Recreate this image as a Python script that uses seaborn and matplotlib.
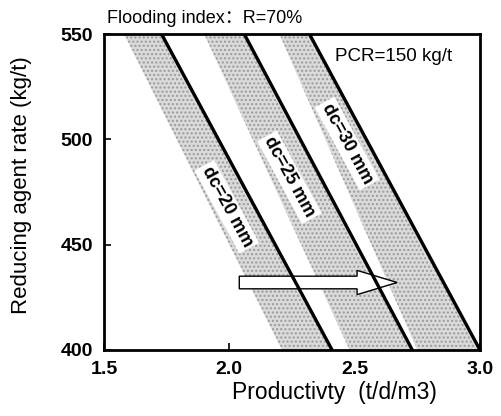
import matplotlib
matplotlib.use("Agg")
import matplotlib.pyplot as plt
import seaborn as sns
import pandas as pd

# reducing agent rate at the two ends of every line (kg/t)
rate = [550, 400]
# productivity where each dc line crosses those rates (t/d/m3)
prod_20 = [1.73, 2.41]
prod_25 = [2.06, 2.73]
prod_30 = [2.32, 3.00]
# left edge of the shaded band for each dc
band_20 = [1.58, 2.21]
band_25 = [1.90, 2.48]
band_30 = [2.20, 2.75]
dc_labels = ["dc=20 mm", "dc=25 mm", "dc=30 mm"]
label_pos = [(1.99, 468), (2.24, 482), (2.47, 498)]

sns.set_style("ticks")
plt.rcParams["font.family"] = ["Liberation Sans", "Noto Sans CJK SC", "DejaVu Sans"]
plt.rcParams.update({"text.color": "black", "axes.labelcolor": "black",
                     "xtick.color": "black", "ytick.color": "black"})

fig = plt.figure(figsize=(5.02, 4.16), dpi=100)
ax = fig.add_axes([0.207, 0.159, 0.749, 0.759])

lines = pd.DataFrame({
    "rate": rate * 3,
    "prod": prod_20 + prod_25 + prod_30,
    "dc": ["20"] * 2 + ["25"] * 2 + ["30"] * 2,
})

for band, prod in [(band_20, prod_20), (band_25, prod_25), (band_30, prod_30)]:
    ax.fill_betweenx(rate, band, prod, facecolor="#dadada", edgecolor="#9a9a9a",
                     hatch="....", linewidth=0)

sns.lineplot(data=lines, x="prod", y="rate", units="dc", estimator=None,
             color="black", lw=2.4, sort=False, ax=ax)

for txt, (x, y) in zip(dc_labels, label_pos):
    ax.text(x, y, txt, rotation=-61.5, rotation_mode="anchor", ha="center", va="center",
            fontsize=13, fontweight="bold",
            bbox=dict(facecolor="white", edgecolor="none", pad=2))

ax.arrow(2.04, 432, 0.47, 0, width=6, head_width=11.5, head_length=0.16,
         length_includes_head=False, facecolor="white", edgecolor="black", lw=1)

ax.text(2.42, 537, "PCR=150 kg/t", fontsize=13.5)
fig.text(0.213, 0.955, "Flooding index：R=70%", fontsize=13, va="center")

ax.set_xlim(1.5, 3.0)
ax.set_ylim(400, 550)
ax.set_xticks([1.5, 2.0, 2.5, 3.0])
ax.set_xticklabels(["1.5", "2.0", "2.5", "3.0"], fontweight="bold", fontsize=14)
ax.set_yticks([400, 450, 500, 550])
ax.set_yticklabels(["400", "450", "500", "550"], fontweight="bold", fontsize=14)
ax.tick_params(direction="in", length=5, width=1.2, pad=8, colors="black")
for s in ax.spines.values():
    s.set_linewidth(2)
    s.set_color("black")
ax.set_xlabel("Productivty  (t/d/m3)", fontsize=16.5)
ax.xaxis.set_label_coords(0.612, -0.098)
ax.set_ylabel("Reducing agent rate (kg/t)", fontsize=16)
ax.yaxis.set_label_coords(-0.19, 0.522)

fig.savefig("out.png", dpi=100)
